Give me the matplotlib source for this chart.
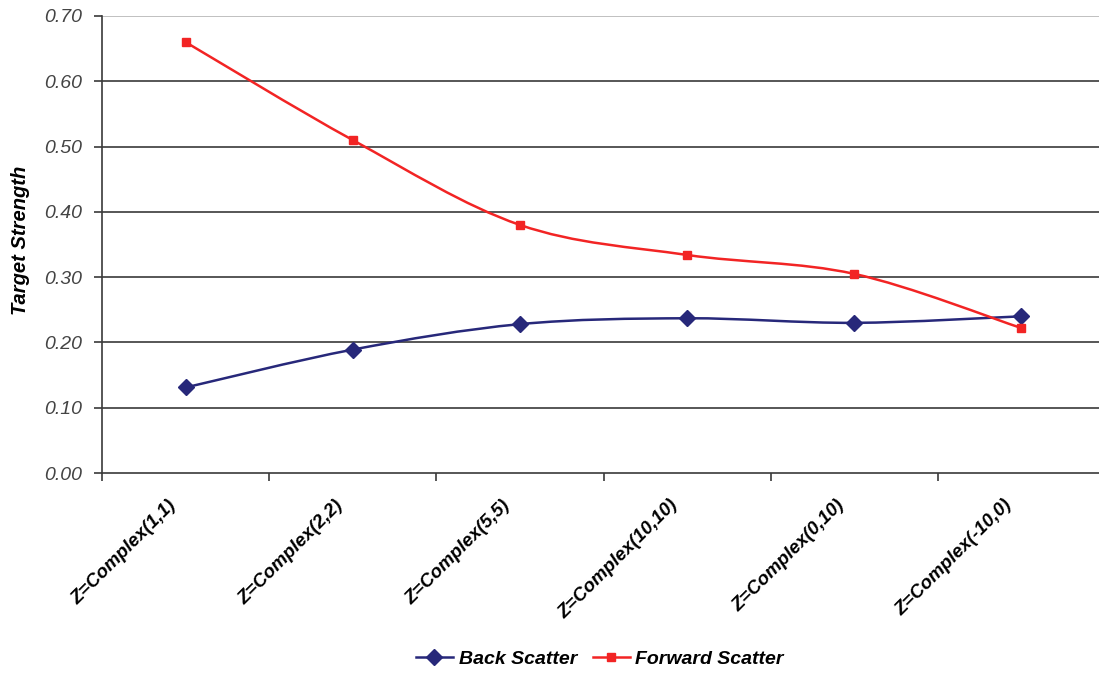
import numpy as np
import matplotlib
matplotlib.use("Agg")
import matplotlib.pyplot as plt
from matplotlib.path import Path
from matplotlib.patches import PathPatch
from matplotlib.lines import Line2D

plt.rcParams["font.family"] = ["Liberation Sans", "DejaVu Sans"]

categories = ["Z=Complex(1,1)", "Z=Complex(2,2)", "Z=Complex(5,5)",
              "Z=Complex(10,10)", "Z=Complex(0,10)", "Z=Complex(-10,0)"]
back_scatter = [0.131, 0.189, 0.228, 0.237, 0.230, 0.240]
forward_scatter = [0.660, 0.510, 0.380, 0.334, 0.305, 0.222]
y_ticks = [0.0, 0.1, 0.2, 0.3, 0.4, 0.5, 0.6, 0.7]

BLUE = "#27287a"
RED = "#f22424"


def smooth_path(xs, ys):
    # Excel-style smoothed line: Catmull-Rom segments as cubic Beziers
    pts = np.column_stack([xs, ys]).astype(float)
    n = len(pts)
    verts = [pts[0]]
    codes = [Path.MOVETO]
    for i in range(n - 1):
        p0 = pts[i - 1] if i > 0 else pts[i]
        p1 = pts[i]
        p2 = pts[i + 1]
        p3 = pts[i + 2] if i + 2 < n else pts[i + 1]
        c1 = p1 + (p2 - p0) / 6.0
        c2 = p2 - (p3 - p1) / 6.0
        verts += [c1, c2, p2]
        codes += [Path.CURVE4] * 3
    return Path(verts, codes)


fig = plt.figure(figsize=(10.99, 6.75), dpi=100)
ax = fig.add_axes([102 / 1099, 202 / 675, 1003 / 1099, 457 / 675])

x = np.arange(len(categories))
for vals, color, marker, ms in [(back_scatter, BLUE, "D", 8), (forward_scatter, RED, "s", 5.5)]:
    ax.add_patch(PathPatch(smooth_path(x, vals), fill=False, edgecolor=color, lw=1.8, zorder=3))
    ax.plot(x, vals, linestyle="none", marker=marker, markersize=ms, color=color, zorder=4)

ax.set_xlim(-0.5, len(categories) - 0.5)
ax.set_ylim(0, 0.7)

for t in y_ticks[1:-1]:
    ax.axhline(t, color="#3a3a3a", lw=1.2, zorder=1)
ax.axhline(0.7, color="#b5b5b5", lw=1.2, zorder=1)

ax.set_yticks(y_ticks)
ax.set_yticklabels([f"{t:.2f}" for t in y_ticks], fontsize=14, style="italic", color="#444444")

# category labels, rotated, ending just left of each category centre
ax.set_xticks([])
for i, cat in enumerate(categories):
    ax.annotate(cat, xy=(i, 0), xycoords=("data", "axes fraction"),
                xytext=(-13, -17), textcoords="offset points",
                fontsize=13.5, style="italic", weight="bold",
                rotation=45, ha="right", va="top", rotation_mode="anchor")
ax.set_xticks(np.arange(-0.5, len(categories)), minor=True)
ax.tick_params(axis="x", which="minor", length=6, width=1.2, color="#3a3a3a", direction="out")
ax.tick_params(axis="y", length=6, width=1.2, color="#3a3a3a", direction="out", pad=8)

for side in ["top", "right"]:
    ax.spines[side].set_visible(False)
for side in ["left", "bottom"]:
    ax.spines[side].set_color("#3a3a3a")
    ax.spines[side].set_linewidth(1.2)

ax.set_ylabel("Target Strength", fontsize=14.5, style="italic", weight="bold")
ax.yaxis.set_label_coords(-0.072, 0.51)

handles = [
    Line2D([], [], color=BLUE, lw=1.8, marker="D", markersize=8),
    Line2D([], [], color=RED, lw=1.8, marker="s", markersize=5.5),
]
fig.legend(handles, ["Back Scatter", "Forward Scatter"], loc="center",
           bbox_to_anchor=(600 / 1099, 1 - 659 / 675), ncol=2, frameon=False,
           prop={"size": 14, "style": "italic", "weight": "bold"},
           handlelength=1.9, columnspacing=0.8, handletextpad=0.3)

fig.savefig("out.png", dpi=100)
